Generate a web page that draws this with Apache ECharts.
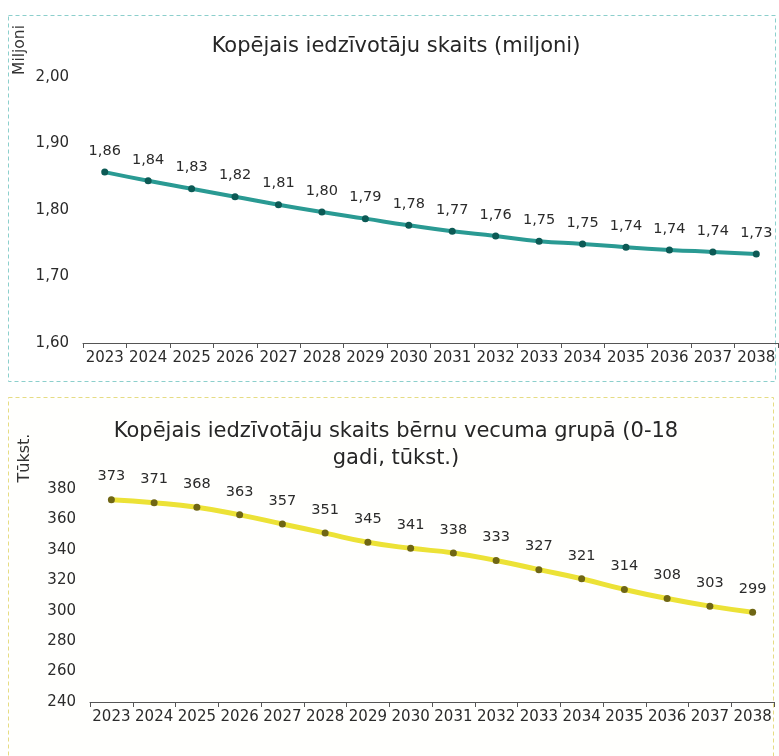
<!DOCTYPE html>
<html>
<head>
<meta charset="utf-8">
<script src="https://cdn.jsdelivr.net/npm/echarts@6/dist/echarts.min.js"></script>
<style>
html,body{margin:0;padding:0;background:#fff;}
#chart{width:779px;height:756px;}
</style>
</head>
<body>
<div id="chart"></div>
<script>
// Data
const years = ['2023','2024','2025','2026','2027','2028','2029','2030','2031','2032','2033','2034','2035','2036','2037','2038'];
const totalPopulation = [1.857,1.844,1.832,1.820,1.808,1.797,1.787,1.777,1.768,1.761,1.753,1.749,1.744,1.740,1.737,1.734];
const childPopulation = [373,371,368,363,357,351,345,341,338,333,327,321,314,308,303,299];
const topTitle = 'Kopējais iedzīvotāju skaits (miljoni)';
const bottomTitle = 'Kopējais iedzīvotāju skaits bērnu vecuma grupā (0-18\ngadi, tūkst.)';
const topAxisName = 'Miljoni';
const bottomAxisName = 'Tūkst.';

const FONT = 'DejaVu Sans';
const comma2 = v => Number(v).toFixed(2).replace('.', ',');

const chart = echarts.init(document.getElementById('chart'));

const xAxisCommon = {
  type: 'category',
  data: years,
  boundaryGap: true,
  axisLine: { show: true, lineStyle: { color: '#555', width: 1 } },
  axisTick: { show: true, alignWithLabel: false, length: 5, lineStyle: { color: '#555' } },
  axisLabel: { color: '#2b2b2b', fontFamily: FONT, fontSize: 15, margin: 8, interval: 0 },
  splitLine: { show: false }
};

const option = {
  backgroundColor: '#ffffff',
  animation: false,
  title: [
    {
      text: topTitle, left: 396, top: 36, textAlign: 'center', padding: 0,
      textStyle: { fontFamily: FONT, fontSize: 21, fontWeight: 'normal', color: '#262626' }
    },
    {
      text: bottomTitle, left: 396, top: 418, textAlign: 'center', padding: 0,
      textStyle: { fontFamily: FONT, fontSize: 21, fontWeight: 'normal', color: '#262626', lineHeight: 27 }
    }
  ],
  graphic: [
    {
      type: 'rect', silent: true, z: -1,
      shape: { x: 8.5, y: 15.5, width: 767, height: 366 },
      style: { fill: 'none', stroke: '#8ccfcc', lineWidth: 1, lineDash: [4, 3] }
    },
    {
      type: 'rect', silent: true, z: -1,
      shape: { x: 8.5, y: 397.5, width: 765, height: 380 },
      style: { fill: '#fffffd', stroke: '#e6dc84', lineWidth: 1, lineDash: [4, 3] }
    },
    {
      type: 'text', silent: true, x: 20, y: 50, rotation: Math.PI / 2,
      style: { text: topAxisName, fontFamily: FONT, fontSize: 15.5, fill: '#333', textAlign: 'center', verticalAlign: 'middle' }
    },
    {
      type: 'text', silent: true, x: 25, y: 458, rotation: Math.PI / 2,
      style: { text: bottomAxisName, fontFamily: FONT, fontSize: 16, fill: '#333', textAlign: 'center', verticalAlign: 'middle' }
    }
  ],
  grid: [
    { left: 83, right: 1, top: 77, height: 266, containLabel: false },
    { left: 90, right: 5, top: 489, height: 213, containLabel: false }
  ],
  xAxis: [
    Object.assign({ gridIndex: 0 }, xAxisCommon),
    Object.assign({ gridIndex: 1 }, xAxisCommon)
  ],
  yAxis: [
    {
      type: 'value', gridIndex: 0, min: 1.6, max: 2.0, interval: 0.1,
      axisLine: { show: false }, axisTick: { show: false }, splitLine: { show: false },
      axisLabel: { color: '#2b2b2b', fontFamily: FONT, fontSize: 15, margin: 14, formatter: v => comma2(v) }
    },
    {
      type: 'value', gridIndex: 1, min: 240, max: 380, interval: 20,
      axisLine: { show: false }, axisTick: { show: false }, splitLine: { show: false },
      axisLabel: { color: '#2b2b2b', fontFamily: FONT, fontSize: 15, margin: 14 }
    }
  ],
  series: [
    {
      type: 'line', xAxisIndex: 0, yAxisIndex: 0, data: totalPopulation,
      smooth: true, symbol: 'circle', symbolSize: 7,
      lineStyle: { color: '#2a9a93', width: 4 },
      itemStyle: { color: '#0c5a55' },
      label: { show: true, position: 'top', distance: 10, color: '#2b2b2b', fontFamily: FONT, fontSize: 14.5, formatter: p => comma2(p.value) }
    },
    {
      type: 'line', xAxisIndex: 1, yAxisIndex: 1, data: childPopulation,
      smooth: true, symbol: 'circle', symbolSize: 7,
      lineStyle: { color: '#ece236', width: 5 },
      itemStyle: { color: '#6f6614' },
      label: { show: true, position: 'top', distance: 12, color: '#2b2b2b', fontFamily: FONT, fontSize: 14.5 }
    }
  ]
};

chart.setOption(option);
</script>
</body>
</html>
